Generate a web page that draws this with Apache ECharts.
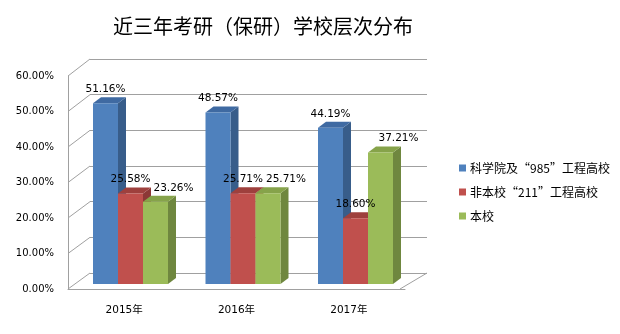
<!DOCTYPE html>
<html>
<head>
<meta charset="utf-8">
<script src="https://cdn.jsdelivr.net/npm/echarts@6/dist/echarts.min.js"></script>
<style>
html,body{margin:0;padding:0;background:#fff;}
#main{width:620px;height:334px;}
</style>
</head>
<body>
<div id="main"></div>
<script>
const titleText = '近三年考研（保研）学校层次分布';
const categories = ['2015年', '2016年', '2017年'];
const seriesNames = ['科学院及“985”工程高校', '非本校“211”工程高校', '本校'];
const s985 = [0.5116, 0.4857, 0.4419];
const s211 = [0.2558, 0.2571, 0.1860];
const sLocal = [0.2326, 0.2571, 0.3721];
const yMin = 0, yMax = 0.6, yStep = 0.1;

// layout constants
const FRONT = {left: 68, top: 76, width: 337, height: 213};
const BACK = {left: 90, top: 59, width: 337, height: 214};
const BARS = {left: 74.25, top: 72, width: 337.5, height: 212};

const palettes = [
  {front: '#4F81BD', side: '#385D8A', top: '#3F6AA2'},
  {front: '#C0504D', side: '#8C3836', top: '#9E403D'},
  {front: '#9BBB59', side: '#6F873F', top: '#86A34A'}
];
const labelShift = [0, 0, 18];
const pct = v => (v * 100).toFixed(2) + '%';

function makeRender(idx) {
  return function (params, api) {
    const cat = api.value(0), v = api.value(1);
    const base = api.coord([cat, 0]);
    const top = api.coord([cat, v]);
    const band = api.size([1, 0])[0];
    const w = band * 25 / 112.5;
    const x0 = base[0] - 1.5 * w + idx * w;
    const x1 = x0 + w;
    const dx = 8, dy = -6;
    const p = palettes[idx];
    return {
      type: 'group',
      children: [
        {type: 'polygon', shape: {points: [[x1, top[1]], [x1 + dx, top[1] + dy], [x1 + dx, base[1] + dy], [x1, base[1]]]}, style: {fill: p.side}},
        {type: 'polygon', shape: {points: [[x0, top[1]], [x0 + dx, top[1] + dy], [x1 + dx, top[1] + dy], [x1, top[1]]]}, style: {fill: p.top}},
        {type: 'rect', shape: {x: x0, y: top[1], width: w, height: base[1] - top[1]}, style: {fill: p.front}},
        {type: 'text', style: {text: pct(v), x: (x0 + x1) / 2 + labelShift[idx], y: top[1] - 14,
          align: 'center', verticalAlign: 'middle', font: '10.5px "DejaVu Sans"', fill: '#000'}, z2: 10}
      ]
    };
  };
}

const values = [s985, s211, sLocal];
const series = values.map((arr, i) => ({
  name: seriesNames[i],
  type: 'custom',
  xAxisIndex: 2, yAxisIndex: 2,
  renderItem: makeRender(i),
  itemStyle: {color: palettes[i].front},
  encode: {x: 0, y: 1},
  data: arr.map((v, j) => [j, v]),
  z: 5
}));

// frame decoration: left wall diagonals, right floor diagonal
const graphics = [];
const nT = Math.round((yMax - yMin) / yStep);
for (let k = 0; k <= nT; k++) {
  const yf = FRONT.top + FRONT.height - k / nT * FRONT.height;
  const yb = BACK.top + BACK.height - k / nT * BACK.height;
  graphics.push({type: 'line', shape: {x1: FRONT.left, y1: yf, x2: BACK.left, y2: yb},
    style: {stroke: '#a0a0a0', lineWidth: 1}, silent: true, z: 1});
}
graphics.push({type: 'line', shape: {x1: FRONT.left + FRONT.width - 5, y1: FRONT.top + FRONT.height,
  x2: BACK.left + BACK.width, y2: BACK.top + BACK.height}, style: {stroke: '#a0a0a0', lineWidth: 1}, silent: true, z: 1});

const chart = echarts.init(document.getElementById('main'), null, {renderer: 'canvas'});
chart.setOption({
  animation: false,
  backgroundColor: '#fff',
  title: {text: titleText, left: 108, top: 11,
    textStyle: {fontFamily: '"Noto Sans CJK SC"', fontSize: 20, fontWeight: 'normal', color: '#000'}},
  legend: {
    orient: 'vertical', left: 454, top: 157, itemWidth: 7, itemHeight: 7, itemGap: 12,
    icon: 'rect', data: seriesNames,
    textStyle: {fontFamily: '"Noto Sans CJK SC"', fontSize: 12, color: '#000', padding: [0, 0, 0, -1]}
  },
  grid: [
    {left: BACK.left, top: BACK.top, width: BACK.width, height: BACK.height},
    {left: FRONT.left, top: FRONT.top, width: FRONT.width, height: FRONT.height},
    {left: BARS.left, top: BARS.top, width: BARS.width, height: BARS.height}
  ],
  xAxis: [
    {gridIndex: 0, type: 'category', data: categories, show: false},
    {gridIndex: 1, type: 'category', data: categories,
      axisLine: {show: true, lineStyle: {color: '#a0a0a0'}}, axisTick: {show: false},
      axisLabel: {margin: 16, color: '#000', fontFamily: '"DejaVu Sans", "Noto Sans CJK SC"', fontSize: 10.5}},
    {gridIndex: 2, type: 'category', data: categories, show: false}
  ],
  yAxis: [
    {gridIndex: 0, type: 'value', min: yMin, max: yMax, interval: yStep,
      axisLine: {show: false}, axisTick: {show: false}, axisLabel: {show: false},
      splitLine: {show: true, lineStyle: {color: '#a0a0a0', width: 1}}},
    {gridIndex: 1, type: 'value', min: yMin, max: yMax, interval: yStep,
      axisLine: {show: true, lineStyle: {color: '#a0a0a0'}}, axisTick: {show: false},
      splitLine: {show: false},
      axisLabel: {margin: 14, color: '#000', fontFamily: '"DejaVu Sans"', fontSize: 10, formatter: pct}},
    {gridIndex: 2, type: 'value', min: yMin, max: yMax, show: false, splitLine: {show: false}}
  ],
  graphic: graphics,
  series: series
});
</script>
</body>
</html>
